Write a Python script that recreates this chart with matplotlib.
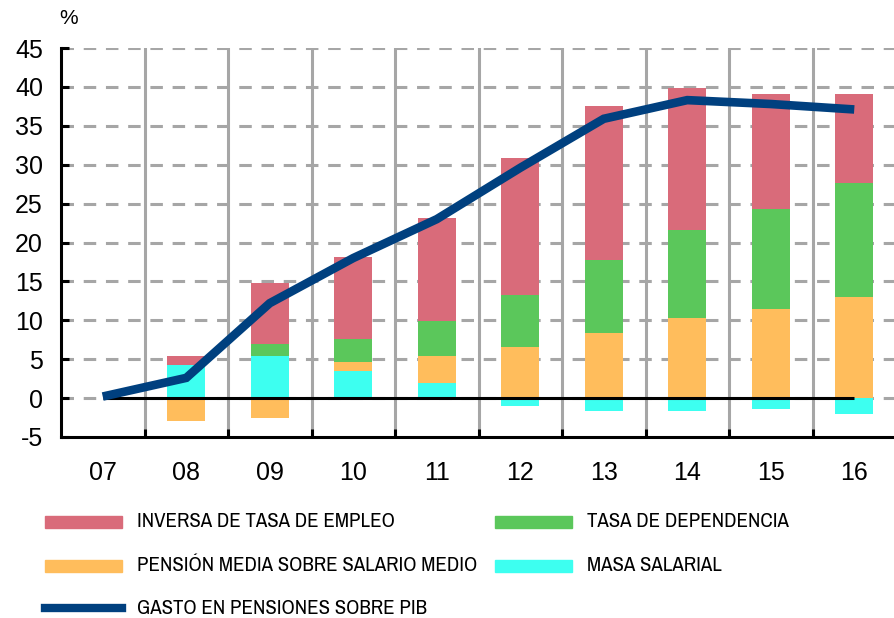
import numpy as np
import matplotlib
matplotlib.use('Agg')
import matplotlib.pyplot as plt
from matplotlib import font_manager
from matplotlib.patches import Rectangle
from matplotlib.lines import Line2D

plt.rcParams['font.family'] = ['Liberation Sans', 'DejaVu Sans']
plt.rcParams['lines.scale_dashes'] = False
plt.rcParams['axes.unicode_minus'] = False

# datos (puntos porcentuales)
years = ['07', '08', '09', '10', '11', '12', '13', '14', '15', '16']
inversa_empleo = [0, 1.2, 7.8, 10.6, 13.2, 17.5, 19.8, 18.3, 14.8, 11.4]
tasa_dependencia = [0, 0, 1.6, 3.0, 4.5, 6.7, 9.4, 11.3, 12.8, 14.7]
pension_media = [0, -2.9, -2.6, 1.1, 3.5, 6.6, 8.4, 10.3, 11.5, 13.0]
masa_salarial = [0, 4.2, 5.4, 3.5, 1.9, -1.0, -1.7, -1.7, -1.4, -2.1]
gasto_pib = [0.2, 2.6, 12.2, 18.0, 23.0, 29.6, 35.9, 38.3, 37.8, 37.1]

labels = ['INVERSA DE TASA DE EMPLEO', 'TASA DE DEPENDENCIA',
          'PENSIÓN MEDIA SOBRE SALARIO MEDIO', 'MASA SALARIAL',
          'GASTO EN PENSIONES SOBRE PIB']

c_red = '#D96B7A'
c_green = '#5BC75B'
c_orange = '#FFBD5C'
c_cyan = '#3DFFF0'
c_blue = '#00407F'
c_grid = '#A6A6A6'

# fuente estrecha para la leyenda si hay alguna instalada
narrow_names = sorted({f.name for f in font_manager.fontManager.ttflist
                       if 'Narrow' in f.name or 'Condensed' in f.name})
if narrow_names:
    leg_font = dict(family=[narrow_names[0], 'DejaVu Sans'], fontsize=15)
else:
    leg_font = dict(family=['Liberation Sans', 'DejaVu Sans'], fontsize=12.2)

fig = plt.figure(figsize=(8.94, 6.18), dpi=100)
ax = fig.add_axes([61 / 894, 1 - 437 / 618, 835 / 894, 389 / 618])

x = np.arange(len(years))
w = 0.45

# apilado: positivos hacia arriba, negativos hacia abajo
stack = [(masa_salarial, c_cyan), (pension_media, c_orange),
         (tasa_dependencia, c_green), (inversa_empleo, c_red)]
pos_base = np.zeros(len(x))
neg_base = np.zeros(len(x))
for vals, col in stack:
    v = np.array(vals, dtype=float)
    base = np.where(v >= 0, pos_base, neg_base)
    ax.bar(x, v, w, bottom=base, color=col, edgecolor='none', zorder=3)
    pos_base += np.where(v > 0, v, 0)
    neg_base += np.where(v < 0, v, 0)

ax.hlines(0, x[0], x[-1], color='black', lw=2.2, zorder=4)
ax.plot(x, gasto_pib, color=c_blue, lw=6.2, solid_capstyle='butt',
        solid_joinstyle='miter', zorder=5)

ax.set_xlim(-0.5, len(x) - 0.5)
ax.set_ylim(-5, 45)
ax.set_yticks(np.arange(-5, 46, 5))

# rejilla
for yv in np.arange(0, 46, 5):
    ax.axhline(yv, color=c_grid, lw=2.2, ls=(0, (9, 7)), zorder=1)
for xv in x[:-1] + 0.5:
    ax.axvline(xv, color=c_grid, lw=2.2, zorder=1)

ax.set_xticks(x)
ax.set_xticklabels(years)
ax.set_xticks(x[:-1] + 0.5, minor=True)
ax.tick_params(axis='x', which='major', length=0, labelsize=18, pad=17)
ax.tick_params(axis='x', which='minor', direction='in', length=6, width=2.2)
ax.tick_params(axis='y', direction='in', length=6, width=2.2, labelsize=18, pad=13)

for s in ['top', 'right']:
    ax.spines[s].set_visible(False)
for s in ['left', 'bottom']:
    ax.spines[s].set_linewidth(2.2)

fig.text(69 / 894, 1 - 18 / 618, '%', fontsize=15, ha='center', va='center')

# leyenda manual
entries = [(labels[0], c_red, 45, 137, 521.5), (labels[1], c_green, 495, 587, 521.5),
           (labels[2], c_orange, 45, 137, 565.5), (labels[3], c_cyan, 495, 587, 565.5)]
for txt, col, px, tx, py in entries:
    fig.patches.append(Rectangle((px / 894, 1 - (py + 6) / 618), 77 / 894, 12 / 618,
                                 transform=fig.transFigure, color=col))
    fig.text(tx / 894, 1 - py / 618, txt, ha='left', va='center', **leg_font)
fig.lines.append(Line2D([45 / 894, 122 / 894], [1 - 608 / 618, 1 - 608 / 618],
                        transform=fig.transFigure, color=c_blue, lw=6))
fig.text(137 / 894, 1 - 608 / 618, labels[4], ha='left', va='center', **leg_font)

fig.savefig('out.png', dpi=100)
